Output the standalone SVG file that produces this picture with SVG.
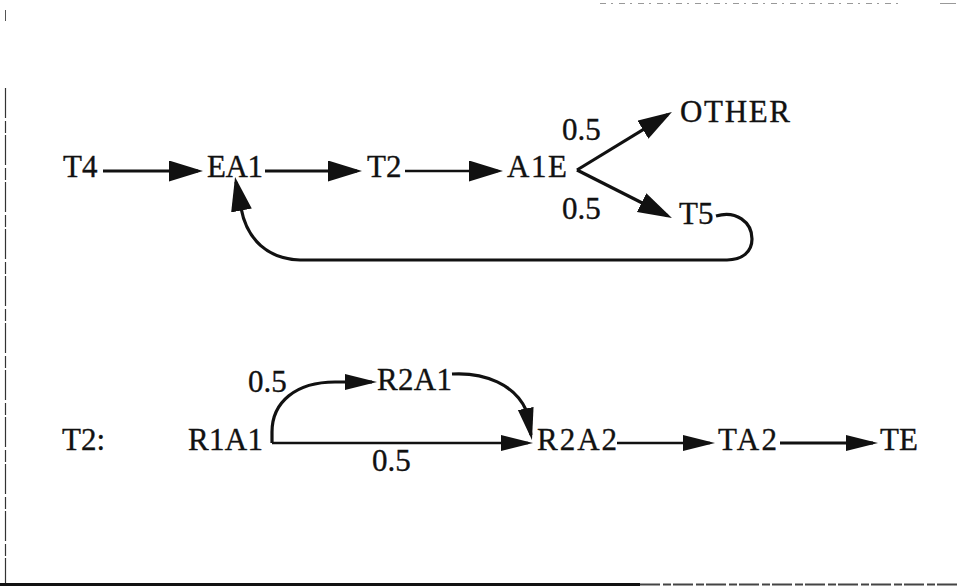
<svg xmlns="http://www.w3.org/2000/svg" width="960" height="587" viewBox="0 0 960 587">
  <style>
    .lbl { font-family: "Liberation Serif", "Times New Roman", serif; font-size: 31px; fill: #111; stroke: #111; stroke-width: 0.35; }
    .edge { fill: none; stroke: #111; stroke-linecap: butt; stroke-linejoin: round; }
    .thick { stroke-width: 3.2; }
    .thin { stroke-width: 2.4; }
  </style>
  <defs>
    <marker id="headL" markerUnits="userSpaceOnUse" markerWidth="35" markerHeight="22" refX="29" refY="10.5" orient="auto">
      <path d="M0,0 L34,10.5 L0,21 Z" fill="#111"/>
    </marker>
    <marker id="headS" markerUnits="userSpaceOnUse" markerWidth="33" markerHeight="18" refX="27" refY="8" orient="auto">
      <path d="M0,0 L32,8 L0,16 Z" fill="#111"/>
    </marker>
  </defs>

  <rect width="960" height="587" fill="#fff"/>

  <!-- page frame -->
  <g id="frame" fill="none">
    <line x1="5.5" y1="10" x2="5.5" y2="21" stroke="#555" stroke-width="1"/>
    <line x1="5.5" y1="88" x2="5.5" y2="584" stroke="#333" stroke-width="1.2" stroke-dasharray="30 3 12 2"/>
    <line x1="0" y1="584.5" x2="640" y2="584.5" stroke="#111" stroke-width="3"/>
    <line x1="640" y1="584.5" x2="960" y2="584.5" stroke="#444" stroke-width="2" stroke-dasharray="20 3 8 2"/>
    <line x1="600" y1="3.5" x2="900" y2="3.5" stroke="#999" stroke-width="1" stroke-dasharray="6 5 2 6"/>
    <line x1="940" y1="3.5" x2="956" y2="3.5" stroke="#999" stroke-width="1"/>
  </g>

  <!-- connectors -->
  <g id="connectors" class="edge">
    <path class="thick" d="M103,171 L198,171" marker-end="url(#headL)"/>
    <path class="thick" d="M265,171 L357,171" marker-end="url(#headL)"/>
    <path class="thin" d="M405,171 L498,171" marker-end="url(#headL)"/>
    <path class="thick" d="M577,170 L667.7,114.6" marker-end="url(#headL)"/>
    <path class="thick" d="M577,170 L667.5,215.7" marker-end="url(#headL)"/>
    <path class="thick" d="M716,216 C736,210 752,222 752,239 C752,252 742,260 727,260 L300,260 C268,259 247,240 241,208 L236,182" marker-end="url(#headL)"/>

    <path class="thin" d="M272,443 L528,443" marker-end="url(#headS)"/>
    <path class="thick" d="M272,443 L272,432 C272,402 296,382 335,382 L372,382" marker-end="url(#headS)"/>
    <path class="thick" d="M452,374 C485,372 515,385 526,410 L531,435" marker-end="url(#headS)"/>
    <path class="thin" d="M617,443 L710,443" marker-end="url(#headS)"/>
    <path class="thick" d="M780,443 L873,443" marker-end="url(#headS)"/>
  </g>

  <!-- edge weights -->
  <g id="weights" class="lbl">
    <text x="562" y="140">0.5</text>
    <text x="562" y="219">0.5</text>
    <text x="248" y="392">0.5</text>
    <text x="372" y="471">0.5</text>
  </g>

  <!-- top process -->
  <g id="T4"><text class="lbl" x="63" y="177">T4</text></g>
  <g id="EA1"><text class="lbl" x="207" y="177" textLength="56">EA1</text></g>
  <g id="T2"><text class="lbl" x="367" y="177">T2</text></g>
  <g id="A1E"><text class="lbl" x="507" y="177" textLength="60">A1E</text></g>
  <g id="OTHER"><text class="lbl" x="680" y="122" textLength="110">OTHER</text></g>
  <g id="T5"><text class="lbl" x="679" y="224">T5</text></g>

  <!-- T2 sub-process -->
  <g id="T2-label"><text class="lbl" x="62" y="450">T2:</text></g>
  <g id="R1A1"><text class="lbl" x="188" y="450" textLength="75">R1A1</text></g>
  <g id="R2A1"><text class="lbl" x="377" y="390" textLength="75">R2A1</text></g>
  <g id="R2A2"><text class="lbl" x="537" y="450" textLength="80">R2A2</text></g>
  <g id="TA2"><text class="lbl" x="718" y="450" textLength="59">TA2</text></g>
  <g id="TE"><text class="lbl" x="880" y="450">TE</text></g>
</svg>
